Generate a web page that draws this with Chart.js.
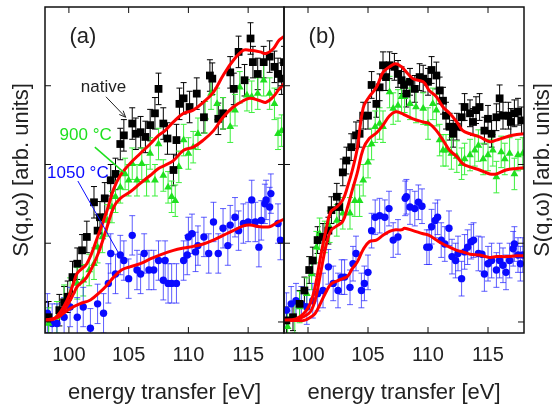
<!DOCTYPE html>
<html>
<head>
<meta charset="utf-8">
<script src="https://cdn.jsdelivr.net/npm/chart.js@4"></script>
<style>
  html, body { margin: 0; padding: 0; background: #fff; }
  #wrap { position: relative; width: 552px; height: 406px; overflow: hidden; }
  #chartA { position: absolute; left: 0; top: 0; }
  #chartB { position: absolute; left: 274px; top: 0; }
</style>
</head>
<body>
<div id="wrap">
  <canvas id="chartA" width="290" height="406"></canvas>
  <canvas id="chartB" width="278" height="406"></canvas>
</div>
<script>
// ---- data (energy in eV, S in arbitrary units) ----
const xTicks = [100, 105, 110, 115];
const yTicks = [0, 1, 2, 3];

// panel (a)
const aNativeE = [98.0, 98.3, 99.2, 99.6, 99.9, 100.3, 100.7, 101.1, 101.5, 102.1, 102.4, 102.6, 103.0, 103.5, 103.9, 104.3, 104.6, 105.3, 105.6, 106.0, 106.4, 106.8, 107.2, 107.5, 107.9, 108.25, 108.75, 109.0, 109.25, 109.6, 110.1, 110.7, 111.3, 111.8, 112.0, 112.5, 112.9, 113.5, 113.8, 114.2, 114.7, 115.2, 115.4, 115.8, 116.3, 116.8, 117.2, 117.5, 117.8, 118.0];
const aNativeS = [0.05, 0.06, 0.15, 0.25, 0.32, 0.57, 0.74, 0.91, 1.08, 1.52, 1.16, 1.33, 1.57, 1.80, 1.88, 2.26, 2.37, 2.52, 2.39, 2.41, 2.35, 2.50, 2.65, 2.96, 2.52, 2.33, 1.93, 2.31, 2.77, 2.84, 2.73, 2.90, 2.60, 3.13, 3.09, 2.58, 2.65, 3.17, 2.96, 3.43, 3.07, 3.60, 3.30, 3.15, 3.30, 3.37, 3.24, 3.15, 3.09, 3.30];
const a900E = [98.3, 99.0, 99.6, 100.1, 100.7, 101.2, 101.7, 102.1, 102.4, 102.8, 103.2, 103.6, 103.9, 104.3, 104.7, 105.0, 105.3, 105.7, 106.1, 106.5, 106.8, 107.2, 107.5, 107.9, 108.3, 108.6, 108.9, 109.2, 109.6, 110.0, 110.4, 110.8, 111.4, 111.9, 112.4, 112.9, 113.5, 113.9, 114.3, 114.9, 115.3, 115.8, 116.3, 116.8, 117.2, 117.5, 117.8];
const a900S = [-0.02, 0.06, 0.27, 0.36, 0.49, 0.53, 0.66, 0.74, 0.95, 1.08, 1.29, 1.46, 1.59, 1.71, 1.88, 1.80, 2.01, 1.80, 2.01, 1.80, 2.14, 1.80, 2.26, 1.86, 1.71, 1.59, 1.54, 1.97, 2.31, 2.14, 2.22, 2.39, 2.60, 2.90, 2.77, 2.65, 2.48, 2.69, 2.98, 2.88, 2.86, 2.90, 3.07, 2.90, 2.77, 2.39, 2.43];
const a1050E = [98.2, 98.6, 99.0, 99.6, 100.1, 100.7, 101.2, 101.8, 102.4, 102.9, 103.3, 103.5, 103.9, 104.3, 104.6, 105.0, 105.3, 105.7, 106.0, 106.3, 106.7, 107.1, 107.5, 107.9, 108.05, 108.3, 108.6, 109.0, 109.6, 109.9, 110.0, 110.3, 110.6, 110.8, 111.3, 111.7, 112.1, 112.5, 112.9, 113.3, 113.5, 113.9, 114.2, 114.6, 115.0, 115.3, 115.6, 115.9, 116.1, 116.4, 116.5, 116.8, 116.9, 117.5, 117.7];
const a1050S = [0.11, -0.02, -0.02, 0.06, 0.19, 0.06, 0.19, -0.08, 0.23, 0.11, 0.49, 0.87, 0.61, 0.85, 0.78, 0.55, 1.10, 0.66, 0.61, 0.87, 0.66, 0.66, 0.78, 0.53, 0.78, 0.49, 0.49, 0.49, 0.78, 0.85, 1.08, 1.12, 0.89, 0.97, 1.08, 0.87, 1.27, 0.87, 1.19, 0.97, 1.23, 1.33, 1.16, 1.25, 1.27, 1.55, 1.27, 0.95, 1.29, 1.50, 1.55, 1.46, 1.63, 1.25, 1.04];

const aFitE = [97.92, 98.75, 99.3, 99.86, 100.4, 100.7, 101.5, 102.4, 103.2, 103.75, 104.3, 105.1, 105.97, 106.8, 107.5, 108.05, 108.75, 109.6, 110.4, 111.25, 112.1, 112.9, 113.75, 114.6, 115.15, 116.0, 116.5, 117.1, 117.6, 118.05];
const aFitNative = [0.02, 0.04, 0.13, 0.28, 0.50, 0.62, 0.74, 1.08, 1.42, 1.69, 1.86, 2.01, 2.14, 2.26, 2.37, 2.43, 2.54, 2.65, 2.69, 2.79, 2.92, 3.13, 3.32, 3.45, 3.45, 3.43, 3.41, 3.47, 3.58, 3.63];
const aFit900 = [0.02, 0.04, 0.08, 0.21, 0.36, 0.45, 0.57, 0.85, 1.21, 1.46, 1.57, 1.65, 1.76, 1.86, 1.95, 1.99, 2.05, 2.18, 2.22, 2.31, 2.43, 2.60, 2.73, 2.81, 2.84, 2.81, 2.79, 2.86, 2.96, 3.03];
const aFit1050E = [97.92, 99.0, 100.1, 100.9, 101.8, 102.6, 103.2, 103.75, 104.4, 105.1, 105.97, 106.8, 107.6, 108.75, 109.6, 110.4, 111.25, 112.1, 112.9, 113.75, 114.6, 115.15, 116.0, 116.8, 117.4, 118.05];
const aFit1050 = [0.02, 0.06, 0.17, 0.23, 0.28, 0.38, 0.47, 0.57, 0.66, 0.70, 0.74, 0.80, 0.85, 0.91, 0.94, 0.96, 0.99, 1.04, 1.10, 1.16, 1.22, 1.23, 1.21, 1.21, 1.26, 1.31];

// panel (b)
const bNativeE = [98.2, 98.75, 99.3, 99.7, 100.1, 100.4, 100.8, 101.25, 101.7, 101.95, 102.4, 102.6, 102.9, 103.2, 103.6, 104.0, 104.3, 104.6, 105.0, 105.3, 105.7, 105.97, 106.25, 106.5, 106.8, 107.2, 107.5, 107.8, 108.0, 108.2, 108.5, 108.9, 109.3, 109.6, 110.0, 110.3, 110.7, 110.97, 111.25, 111.5, 111.8, 112.1, 112.4, 112.8, 113.05, 113.5, 113.75, 114.0, 114.3, 114.7, 115.0, 115.3, 115.7, 115.97, 116.25, 116.7, 116.9, 117.2, 117.5, 117.8];
const bNativeS = [0.02, 0.06, 0.23, 0.40, 0.66, 0.78, 1.04, 1.08, 1.16, 1.42, 1.59, 1.46, 1.90, 2.05, 2.22, 2.37, 2.39, 2.62, 2.62, 3.01, 2.77, 2.98, 3.26, 3.11, 3.26, 3.24, 3.15, 3.07, 3.01, 2.90, 3.05, 2.96, 3.11, 3.09, 3.05, 3.20, 3.13, 2.94, 2.81, 2.62, 2.48, 2.39, 2.48, 2.60, 2.73, 2.65, 2.54, 2.69, 2.73, 2.43, 2.58, 2.39, 2.60, 2.84, 2.62, 2.62, 2.54, 2.65, 2.67, 2.56];
const b900E = [98.3, 98.9, 99.3, 99.9, 100.3, 100.7, 100.97, 101.4, 101.8, 102.4, 102.9, 103.5, 103.9, 104.3, 104.6, 105.0, 105.3, 105.6, 105.97, 106.25, 106.8, 107.1, 107.5, 107.8, 108.05, 108.5, 109.0, 109.6, 110.0, 110.4, 110.7, 110.97, 111.25, 111.5, 111.95, 112.4, 112.8, 113.05, 113.5, 113.9, 114.2, 114.6, 115.0, 115.4, 115.7, 116.1, 116.4, 116.8, 117.2, 117.5, 117.9];
const b900S = [-0.06, 0.06, 0.19, 0.36, 0.61, 0.95, 1.12, 1.08, 1.21, 1.29, 1.38, 1.38, 1.54, 1.54, 1.80, 2.03, 2.26, 2.48, 2.52, 2.48, 2.92, 2.71, 2.75, 2.86, 2.86, 2.77, 2.73, 2.71, 2.52, 2.77, 2.69, 2.31, 2.18, 2.18, 2.14, 2.10, 2.01, 2.07, 2.12, 2.18, 2.24, 2.07, 2.12, 2.18, 1.84, 2.16, 2.07, 2.14, 1.88, 2.12, 2.14];
const b1050E = [98.2, 98.6, 99.0, 99.45, 99.9, 100.4, 100.8, 101.25, 101.7, 102.1, 102.5, 102.8, 103.05, 103.5, 103.75, 104.0, 104.45, 104.7, 105.0, 105.3, 105.6, 105.97, 106.4, 106.75, 107.1, 107.5, 108.1, 108.2, 108.5, 108.9, 109.2, 109.5, 109.9, 110.1, 110.3, 110.6, 110.8, 111.1, 111.4, 111.75, 112.0, 112.3, 112.5, 112.8, 113.05, 113.3, 113.6, 113.8, 114.2, 114.5, 114.7, 115.0, 115.3, 115.7, 115.97, 116.25, 116.5, 116.8, 117.1, 117.2, 117.5, 117.7, 117.9];
const b1050S = [0.15, 0.23, 0.27, 0.23, 0.19, 0.27, 0.36, 0.40, 0.70, 0.49, 0.40, 0.57, 0.57, 0.44, 0.74, 0.87, 0.40, 0.49, 0.63, 1.16, 1.33, 1.35, 1.33, 1.44, 1.04, 1.08, 1.57, 1.59, 1.46, 1.44, 1.52, 1.47, 0.95, 0.95, 1.21, 1.29, 1.33, 1.04, 0.99, 1.19, 0.83, 0.78, 0.87, 0.55, 0.89, 0.95, 1.02, 1.04, 0.87, 0.86, 0.61, 0.74, 0.78, 0.66, 0.78, 0.72, 0.63, 0.78, 0.93, 0.99, 0.85, 0.74, 0.85];

const bFitE = [97.92, 99.0, 99.67, 100.2, 100.6, 101.05, 101.5, 101.9, 102.4, 102.9, 103.3, 103.7, 104.1, 104.6, 105.1, 105.7, 106.25, 106.8, 107.3, 107.8, 108.05, 108.75, 109.6, 110.1, 110.7, 111.25, 111.8, 112.4, 112.9, 113.5, 114.3, 115.15, 115.7, 116.5, 117.4, 118.05];
const bFitNative = [0.02, 0.04, 0.11, 0.24, 0.45, 0.83, 1.17, 1.40, 1.46, 1.55, 1.72, 1.93, 2.20, 2.72, 2.86, 2.98, 3.17, 3.24, 3.28, 3.24, 3.20, 3.09, 3.05, 2.94, 2.86, 2.73, 2.65, 2.54, 2.43, 2.39, 2.35, 2.29, 2.31, 2.35, 2.38, 2.39];
const bFit900 = [0.02, 0.03, 0.07, 0.13, 0.28, 0.62, 0.97, 1.16, 1.22, 1.28, 1.46, 1.68, 1.89, 2.20, 2.33, 2.40, 2.50, 2.62, 2.67, 2.65, 2.63, 2.58, 2.54, 2.52, 2.43, 2.31, 2.18, 2.10, 2.01, 1.97, 1.93, 1.88, 1.88, 1.93, 1.95, 1.96];
const bFit1050 = [0.02, 0.02, 0.02, 0.06, 0.11, 0.24, 0.38, 0.48, 0.52, 0.55, 0.58, 0.68, 0.76, 0.92, 1.02, 1.04, 1.10, 1.15, 1.17, 1.17, 1.19, 1.16, 1.12, 1.10, 1.04, 0.99, 0.95, 0.91, 0.89, 0.86, 0.85, 0.82, 0.83, 0.83, 0.84, 0.84];

// ---- styling ----
const FONT = '"Liberation Sans", Arial, Helvetica, sans-serif';
const TXT = '#222';
const BLACK = '#000';
const GREEN = '#1fe01f';
const GREEN_BAR = '#3cf03c';
const BLUE = '#0a0aff';
const BLUE_BAR = 'rgba(40,40,255,0.75)';
const RED = '#ff0000';
Chart.defaults.font.family = FONT;

function pts(xs, ys) {
  return xs.map((x, i) => ({ x: x, y: ys[i] }));
}

function markSet(xs, ys, style, color, barColor, err, radius, order) {
  return {
    data: pts(xs, ys), showLine: false, pointStyle: style, pointRadius: radius,
    backgroundColor: color, borderColor: color, pointBorderWidth: 0,
    err: err, errColor: barColor, order: order
  };
}

function fitSet(xs, ys) {
  return {
    data: pts(xs, ys), showLine: true, borderColor: RED, borderWidth: 3,
    pointRadius: 0, tension: 0.4, fill: false, order: 0
  };
}

// frame, inward ticks, error bars and notes
const framePlugin = {
  id: 'frame',
  beforeDatasetsDraw(chart) {
    const { ctx, chartArea: a, scales: { y } } = chart;
    ctx.save();
    ctx.beginPath();
    ctx.rect(a.left, a.top, a.right - a.left, a.bottom - a.top);
    ctx.clip();
    chart.data.datasets.forEach((ds, i) => {
      if (!ds.err) return;
      const meta = chart.getDatasetMeta(i);
      ctx.strokeStyle = ds.errColor;
      ctx.lineWidth = 1;
      meta.data.forEach((pt, j) => {
        const v = ds.data[j].y;
        const y1 = y.getPixelForValue(v - ds.err);
        const y2 = y.getPixelForValue(v + ds.err);
        ctx.beginPath();
        ctx.moveTo(pt.x, y1); ctx.lineTo(pt.x, y2);
        ctx.moveTo(pt.x - 3, y1); ctx.lineTo(pt.x + 3, y1);
        ctx.moveTo(pt.x - 3, y2); ctx.lineTo(pt.x + 3, y2);
        ctx.stroke();
      });
    });
    ctx.restore();
  },
  afterDraw(chart, args, opts) {
    const { ctx, chartArea: a, scales: { x, y } } = chart;
    ctx.save();
    ctx.strokeStyle = '#111';
    ctx.lineWidth = 1.5;
    ctx.strokeRect(a.left, a.top, a.right - a.left, a.bottom - a.top);
    ctx.lineWidth = 1;
    ctx.beginPath();
    xTicks.forEach(t => {
      const px = x.getPixelForValue(t);
      ctx.moveTo(px, a.bottom); ctx.lineTo(px, a.bottom - 6);
      ctx.moveTo(px, a.top); ctx.lineTo(px, a.top + 6);
    });
    yTicks.forEach(t => {
      const py = y.getPixelForValue(t);
      ctx.moveTo(a.left, py); ctx.lineTo(a.left + 6, py);
      ctx.moveTo(a.right, py); ctx.lineTo(a.right - 6, py);
    });
    ctx.stroke();

    (opts.notes || []).forEach(n => {
      ctx.fillStyle = n.color;
      ctx.font = n.size + 'px ' + FONT;
      ctx.textAlign = 'center';
      ctx.textBaseline = 'middle';
      ctx.fillText(n.text, x.getPixelForValue(n.at[0]), y.getPixelForValue(n.at[1]));
      if (n.from) {
        const x1 = x.getPixelForValue(n.from[0]), y1 = y.getPixelForValue(n.from[1]);
        const x2 = x.getPixelForValue(n.to[0]), y2 = y.getPixelForValue(n.to[1]);
        ctx.strokeStyle = n.color;
        ctx.lineWidth = n.width || 1;
        ctx.beginPath();
        ctx.moveTo(x1, y1); ctx.lineTo(x2, y2);
        ctx.stroke();
        if (n.arrow) {
          const ang = Math.atan2(y2 - y1, x2 - x1);
          ctx.beginPath();
          ctx.moveTo(x2 - 7 * Math.cos(ang - 0.4), y2 - 7 * Math.sin(ang - 0.4));
          ctx.lineTo(x2, y2);
          ctx.lineTo(x2 - 7 * Math.cos(ang + 0.4), y2 - 7 * Math.sin(ang + 0.4));
          ctx.stroke();
        }
      }
    });

    if (opts.rightTitle) {
      ctx.fillStyle = TXT;
      ctx.font = '22px ' + FONT;
      ctx.textAlign = 'center';
      ctx.textBaseline = 'middle';
      ctx.translate(a.right + 19, (a.top + a.bottom) / 2);
      ctx.rotate(-Math.PI / 2);
      ctx.fillText(opts.rightTitle, 0, 0);
    }
    ctx.restore();
  }
};

function makeOptions(padLeft, padRight, showYTitle, notes, rightTitle) {
  return {
    responsive: false,
    animation: false,
    layout: { padding: { left: padLeft, right: padRight, top: 7, bottom: 0 } },
    plugins: {
      legend: { display: false },
      tooltip: { enabled: false },
      frame: { notes: notes, rightTitle: rightTitle }
    },
    scales: {
      x: {
        type: 'linear', min: 98, max: 118,
        grid: { display: false, drawTicks: false },
        border: { display: false },
        ticks: { color: TXT, font: { size: 20 }, padding: 10 },
        afterBuildTicks: s => { s.ticks = xTicks.map(v => ({ value: v })); },
        title: { display: true, text: 'energy transfer [eV]', color: TXT, font: { size: 22 }, padding: { top: 0, bottom: 0 } },
        afterFit: s => { s.height = 73; }
      },
      y: {
        type: 'linear', min: -0.14, max: 4.0,
        display: showYTitle,
        grid: { display: false, drawTicks: false },
        border: { display: false },
        ticks: { display: false },
        title: { display: true, text: 'S(q,ω) [arb. units]', color: TXT, font: { size: 22 }, padding: { top: 9, bottom: 0 } },
        afterFit: s => { s.width = showYTitle ? 45 : 0; }
      }
    }
  };
}

const notesA = [
  { text: '(a)', at: [101.17, 3.62], color: TXT, size: 22 },
  { text: 'native', at: [102.9, 2.98], color: TXT, size: 17, from: [103.1, 2.86], to: [104.75, 2.6], arrow: true, width: 1 },
  { text: '900 °C', at: [101.4, 2.37], color: GREEN, size: 17, from: [102.17, 2.22], to: [104.67, 1.89], width: 1.5 },
  { text: '1050 °C', at: [100.75, 1.89], color: BLUE, size: 17, from: [100.75, 1.79], to: [104.25, 0.85], width: 1 }
];
const notesB = [
  { text: '(b)', at: [101.17, 3.62], color: TXT, size: 22 }
];

new Chart(document.getElementById('chartA'), {
  type: 'scatter',
  data: {
    datasets: [
      fitSet(aFitE, aFitNative),
      fitSet(aFitE, aFit900),
      fitSet(aFit1050E, aFit1050),
      markSet(aNativeE, aNativeS, 'rect', BLACK, BLACK, 0.2, 5.5, 1),
      markSet(a900E, a900S, 'triangle', GREEN, GREEN_BAR, 0.2, 4.5, 2),
      markSet(a1050E, a1050S, 'circle', BLUE, BLUE_BAR, 0.25, 3.7, 3)
    ]
  },
  options: makeOptions(0, 6, true, notesA, null),
  plugins: [framePlugin]
});

new Chart(document.getElementById('chartB'), {
  type: 'scatter',
  data: {
    datasets: [
      fitSet(bFitE, bFitNative),
      fitSet(bFitE, bFit900),
      fitSet(bFitE, bFit1050),
      markSet(bNativeE, bNativeS, 'rect', BLACK, BLACK, 0.17, 5.5, 1),
      markSet(b900E, b900S, 'triangle', GREEN, GREEN_BAR, 0.2, 4.5, 2),
      markSet(b1050E, b1050S, 'circle', BLUE, BLUE_BAR, 0.22, 3.7, 3)
    ]
  },
  options: makeOptions(10, 28, false, notesB, 'S(q,ω) [arb. units]'),
  plugins: [framePlugin]
});
</script>
</body>
</html>
